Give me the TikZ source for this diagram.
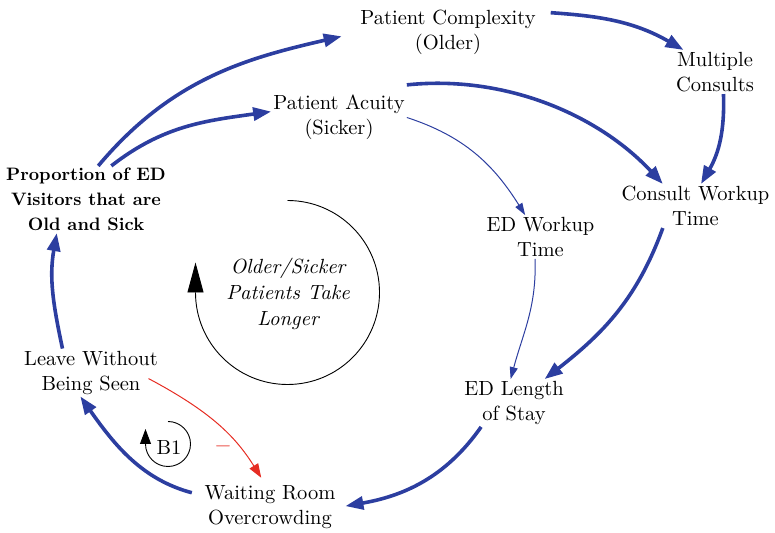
\documentclass[tikz,border=0pt]{standalone}
\usepackage{fontspec}
\setmainfont{lmroman10-regular.otf}[BoldFont=lmroman10-bold.otf,ItalicFont=lmroman10-italic.otf]
\usetikzlibrary{arrows.meta}
\definecolor{linkblue}{RGB}{44,62,160}
\definecolor{linkred}{RGB}{230,45,35}
\newcommand\varsize{\fontsize{20.5}{25}\selectfont}

\begin{document}
\begin{tikzpicture}[x=1pt,y=1pt,
        var/.style={align=center,inner sep=2pt,font=\varsize},
        strong/.style={color=linkblue,line width=3.6pt,-{Triangle[length=18pt,width=13pt]}},
        weak/.style={color=linkblue,line width=1pt,-{Triangle[length=12pt,width=8pt]}}]
            \useasboundingbox (0,0) rectangle (775,532);

            % Variables
            \node [var] (comp) at (448,499.5) {Patient Complexity\\(Older)};
            \node [var] (acuity) at (339,414.5) {Patient Acuity\\(Sicker)};
            \node [var,font=\fontsize{18}{25}\selectfont\bfseries] (prop) at (86,332.5) {Proportion of ED\\Visitors that are\\Old and Sick};
            \node [var] (multi) at (715,460) {Multiple\\Consults};
            \node [var] (consult) at (695.5,326) {Consult Workup\\Time};
            \node [var] (edwork) at (540.5,295) {ED Workup\\Time};
            \node [var] (los) at (514,129) {ED Length\\of Stay};
            \node [var] (lwbs) at (91,159.5) {Leave Without\\Being Seen};
            \node [var] (wait) at (270,24.5) {Waiting Room\\Overcrowding};

            % Links
            \draw [strong,shorten >=17pt] (prop.70) to [out=50,in=193] (comp.west);
            \draw [strong] (prop.53) to [out=38,in=188] (acuity.175);
            \draw [strong,shorten <=13pt] (comp.13) to [out=-4,in=150] (multi.145);
            \draw [strong] ([yshift=8pt]acuity.north east) to [out=6,in=133,looseness=0.9] (consult.146);
            \draw [weak] (acuity.east) to [out=-18,in=122] (edwork.125);
            \draw [strong] (multi.-69) to [out=-88,in=60] (consult.76);
            \draw [strong] (consult.-146) to [out=-110,in=38] (los.38);
            \draw [weak] (edwork.-104) to [out=-88,in=75] (los.98);
            \draw [strong,shorten >=8pt] (los.216) to [out=-125,in=10] (wait.east);
            \draw [strong,shorten <=11pt] (wait.170) to [out=165,in=-55] (lwbs.-114);
            \draw [strong] (lwbs.140) to [out=102,in=-100] (prop.229);
            \draw [color=linkred,line width=1pt,-{Triangle[length=14pt,width=10pt]},shorten <=-13pt,shorten >=7pt]
                (lwbs.-10) to [out=-28,in=122] (wait.102);
            \node [var,text=linkred] (sign) at (223,83) {−};

            % Loops
            \draw [line width=0.9pt,-{Triangle[length=30pt,width=16pt]}]
                (287.5,331.5) arc [start angle=90,end angle=-180,radius=92] -- ++(0,30);
            \node [var,font=\varsize\itshape] (loop) at (288,238) {Older/Sicker\\[1pt]Patients Take\\[1pt]Longer};
            \draw [line width=0.9pt,-{Triangle[length=15pt,width=11pt]}]
                (168,110.5) arc [start angle=90,end angle=-180,radius=22.5] -- ++(0,15);
            \node [var] (b1) at (169,84.5) {B1};
        \end{tikzpicture}
\end{document}
